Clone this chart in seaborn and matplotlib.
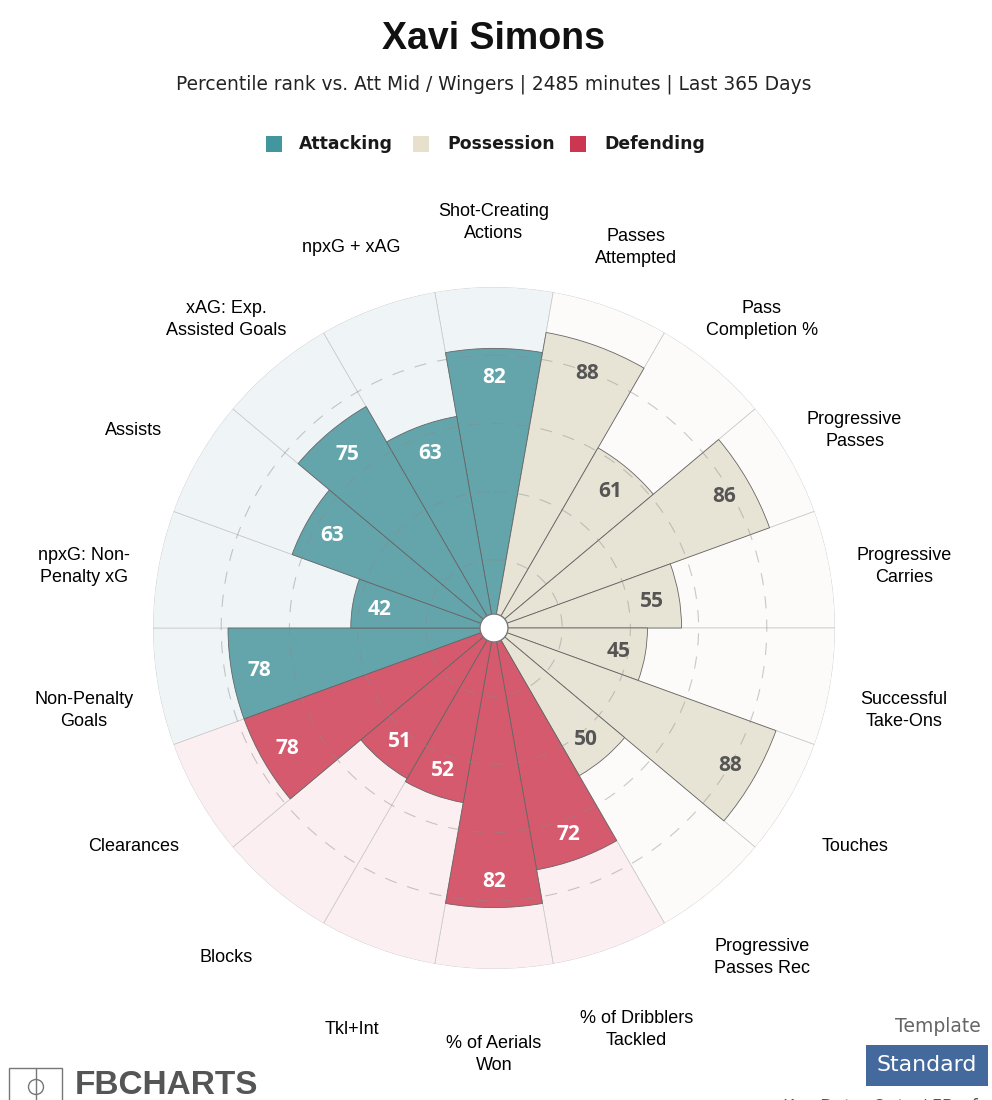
import numpy as np
import pandas as pd
import matplotlib
matplotlib.use("Agg")
import matplotlib.pyplot as plt
import seaborn as sns
from matplotlib.patches import Rectangle, Circle, Ellipse
from matplotlib.lines import Line2D
from matplotlib.transforms import offset_copy

# -------------------------
# Data
# -------------------------
player = "Xavi Simons"
subtitle = "Percentile rank vs. Att Mid / Wingers | 2485 minutes | Last 365 Days"

metrics = [
    "Shot-Creating\nActions", "Passes\nAttempted", "Pass\nCompletion %",
    "Progressive\nPasses", "Progressive\nCarries", "Successful\nTake-Ons",
    "Touches", "Progressive\nPasses Rec", "% of Dribblers\nTackled",
    "% of Aerials\nWon", "Tkl+Int", "Blocks", "Clearances",
    "Non-Penalty\nGoals", "npxG: Non-\nPenalty xG", "Assists",
    "xAG: Exp.\nAssisted Goals", "npxG + xAG",
]
values = [82, 88, 61, 86, 55, 45, 88, 50, 72, 82, 52, 51, 78, 78, 42, 63, 75, 63]
groups = [
    "Attacking", "Possession", "Possession", "Possession", "Possession", "Possession",
    "Possession", "Possession", "Defending", "Defending", "Defending", "Defending",
    "Defending", "Attacking", "Attacking", "Attacking", "Attacking", "Attacking",
]
group_names = ["Attacking", "Possession", "Defending"]
bar_colors = ["#64a5ac", "#e8e4d5", "#d55a6e"]
back_colors = ["#eff4f7", "#fcfbf9", "#fbeff2"]
legend_colors = ["#42979e", "#e6e0cc", "#cd3650"]
text_colors = ["white", "#555555", "white"]

df = pd.DataFrame({"metric": metrics, "value": values, "group": groups})
df["theta"] = np.deg2rad(np.arange(len(df)) * 20.0)
df["full"] = 100

# -------------------------
# Figure
# -------------------------
sns.set_theme(style="white")
plt.rcParams["font.family"] = ["Liberation Sans", "DejaVu Sans"]

fig = plt.figure(figsize=(9.92, 11), dpi=100)
ax = fig.add_axes([153 / 992, 131 / 1100, 682 / 992, 682 / 1100], projection="polar")
ax.set_theta_zero_location("N")
ax.set_theta_direction(-1)

# pale background wedges, then the percentile bars
sns.barplot(data=df, x="theta", y="full", hue="group", hue_order=group_names,
            palette=back_colors, native_scale=True, dodge=False, width=1, saturation=1,
            edgecolor="#c8c8c8", linewidth=0.5, legend=False, errorbar=None, ax=ax)
sns.barplot(data=df, x="theta", y="value", hue="group", hue_order=group_names,
            palette=bar_colors, native_scale=True, dodge=False, width=1, saturation=1,
            edgecolor="#666666", linewidth=0.6, legend=False, errorbar=None, ax=ax)

ax.set_ylim(0, 100)
ax.set_xlim(0, 2 * np.pi)
ax.set_xlabel("")
ax.set_ylabel("")
ax.set_xticks([])
ax.set_yticks([])
ax.grid(False)
ax.spines["polar"].set_visible(False)
ax.patch.set_alpha(0)

# dashed rings sit over the bars
ring_theta = np.linspace(0, 2 * np.pi, 361)
for r in [20, 40, 60, 80]:
    ax.plot(ring_theta, np.full_like(ring_theta, r), color="#8a8a8a", lw=0.8,
            ls=(0, (11, 10)), alpha=0.45, zorder=4)

# metric labels lie on a circle centred a little below the chart centre
label_trans = offset_copy(ax.transData, fig=fig, y=-10.5, units="dots")
value_trans = offset_copy(ax.transData, fig=fig, y=-1.5, units="dots")
for _, row in df.iterrows():
    color = text_colors[group_names.index(row["group"])]
    ax.text(row["theta"], row["value"] - 8, str(row["value"]), color=color, ha="center",
            va="center", fontsize=15, fontweight="bold", family="Open Sans", zorder=6,
            transform=value_trans)
    ax.text(row["theta"], 122.1, row["metric"], color="black", ha="center", va="center",
            fontsize=13, linespacing=1.39, clip_on=False, zorder=6, transform=label_trans)

# centre hole
ax.add_patch(Circle((0.5, 0.5), 14 / 682, transform=ax.transAxes, facecolor="white",
                    edgecolor="#777777", lw=1, zorder=7))

# -------------------------
# Titles and legend
# -------------------------
def px_text(x, y, s, **kw):
    fig.text(x / 992, 1 - y / 1100, s, va="center", **kw)

px_text(493.5, 39, player, ha="center", fontsize=27, fontweight="bold", color="#111111")
px_text(494, 84, subtitle, ha="center", fontsize=13.4, family="DejaVu Sans", color="#222222")

for name, color, box_x, text_x in zip(group_names, legend_colors, [266, 413, 570], [299, 447, 604]):
    fig.add_artist(Rectangle((box_x / 992, 1 - 152 / 1100), 16 / 992, 16 / 1100,
                             transform=fig.transFigure, facecolor=color, edgecolor="none"))
    px_text(text_x, 144, name, ha="left", fontsize=12.4, fontweight="bold",
            family="DejaVu Sans", color="#1a1a1a")

# -------------------------
# Footer
# -------------------------
px_text(981, 1026, "Template", ha="right", fontsize=13.5, family="DejaVu Sans", color="#666666")
fig.add_artist(Rectangle((866 / 992, 1 - 1086 / 1100), 122 / 992, 41 / 1100,
                         transform=fig.transFigure, facecolor="#44699c", edgecolor="none"))
px_text(926.5, 1065, "Standard", ha="center", fontsize=15.8, family="DejaVu Sans", color="white")
px_text(783, 1107, "Key Data: Opta / FBref", ha="left", fontsize=12.5, family="DejaVu Sans", color="#555555")

# logo
px_text(75, 1085, "FBCHARTS", ha="left", fontsize=24, fontweight="bold", color="#555555")
fig.add_artist(Rectangle((9 / 992, 1 - 1110 / 1100), 53 / 992, 42 / 1100, transform=fig.transFigure,
                         facecolor="none", edgecolor="#777777", lw=1))
fig.add_artist(Line2D([36 / 992, 36 / 992], [1 - 1068 / 1100, 0], color="#777777", lw=1))
fig.add_artist(Ellipse((36 / 992, 1 - 1087 / 1100), 15 / 992, 15 / 1100, transform=fig.transFigure,
                       facecolor="white", edgecolor="#777777", lw=1))

fig.savefig("out.png", dpi=100)
